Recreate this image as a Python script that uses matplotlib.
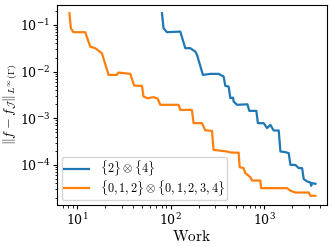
import matplotlib
matplotlib.use("Agg")
import matplotlib.pyplot as plt

plt.rcParams['mathtext.fontset'] = 'cm'
plt.rcParams['font.family'] = ['serif']
plt.rcParams['font.serif'] = ['DejaVu Serif']
plt.rcParams['axes.formatter.use_mathtext'] = True

# {2} x {4}
work_a = [80.9, 84.1, 91.4, 127, 143.8, 162.6, 184, 191.9, 222, 266, 326.5, 370,
          385.5, 418.5, 436.5, 466.6, 473, 515, 664, 697, 829, 860, 993, 1079,
          1171, 1271, 1438, 1499, 1694, 1840, 1919, 2171, 2355, 2560, 2665, 2897,
          3141, 3198, 3278, 3557]
err_a = [0.178, 0.085, 0.0698, 0.0719, 0.0317, 0.0317, 0.0268, 0.0228, 0.00849,
         0.00893, 0.00893, 0.00782, 0.00494, 0.00478, 0.00269, 0.00277, 0.00228,
         0.00194, 0.00199, 0.00144, 0.00144, 0.000785, 0.000785, 0.000614,
         0.000722, 0.000546, 0.000546, 0.000194, 0.000188, 0.000179, 1.005e-4,
         1.0e-4, 8.54e-5, 8.54e-5, 4.97e-5, 4.41e-5, 4.2e-5, 3.57e-5, 4.07e-5,
         3.94e-5]

# {0,1,2} x {0,1,2,3,4}
work_b = [8.27, 8.56, 9.12, 12.2, 13.8, 15.6, 18.4, 21.7, 26.6, 27.7, 37.0, 40.8,
          49.4, 51.3, 56.7, 65.8, 72.6, 77.6, 121.8, 127, 169.4, 176.4, 217, 226,
          235.5, 278, 282, 289, 402, 436.5, 535.6, 549, 605, 632, 714, 746, 914,
          931, 1768, 1919, 2171, 3013, 3141, 3557]
err_b = [0.178, 0.085, 0.0698, 0.0698, 0.0343, 0.0317, 0.0248, 0.00849, 0.00849,
         0.00952, 0.00893, 0.00501, 0.00494, 0.00292, 0.00269, 0.00283, 0.00264,
         0.00194, 0.00194, 0.00151, 0.00151, 0.000785, 0.000785, 0.000655,
         0.000551, 0.000537, 0.00035, 0.00021, 0.000194, 0.000185, 0.000182,
         8.97e-5, 8.54e-5, 6.67e-5, 5.48e-5, 4.63e-5, 4.63e-5, 3.18e-5, 3.18e-5,
         2.79e-5, 2.56e-5, 2.56e-5, 2.18e-5, 2.18e-5]

fig = plt.figure(figsize=(3.32, 2.46), dpi=100)
ax = fig.add_axes([0.172, 0.167, 0.813, 0.813])

ax.loglog(work_a, err_a, color='#1f77b4', lw=1.6, label=r'$\{2\}\otimes\{4\}$')
ax.loglog(work_b, err_b, color='#ff7f0e', lw=1.6,
          label=r'$\{0,1,2\}\otimes\{0,1,2,3,4\}$')

ax.set_xlim(6.1, 4730)
ax.set_ylim(1.39e-5, 0.268)
ax.set_xlabel(r'$\mathrm{Work}$', fontsize=11, labelpad=1)
ax.set_ylabel(r'$\|f-f_{\mathcal{J}}\|_{L^\infty(\Gamma)}$', fontsize=10)
ax.yaxis.set_label_coords(-0.142, 0.5)
ax.tick_params(labelsize=9, length=3, pad=2)
ax.tick_params(which='minor', length=1.8)

ax.legend(loc='lower left', fontsize=8.8, borderaxespad=0.4,
          labelspacing=0.0, borderpad=0.2, handletextpad=0.9)

fig.savefig('out.png', dpi=100)
